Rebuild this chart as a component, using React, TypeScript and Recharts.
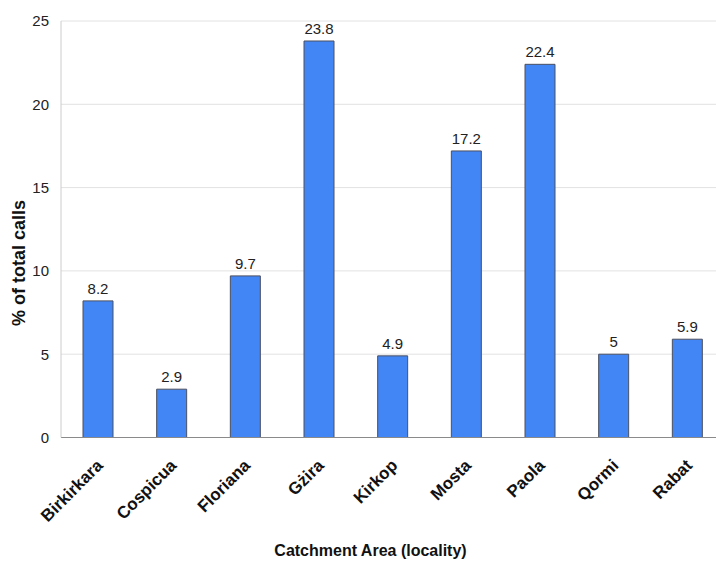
import React from 'react';
import { BarChart, Bar, XAxis, YAxis, CartesianGrid, LabelList, Label } from 'recharts';

const localities = ['Birkirkara', 'Cospicua', 'Floriana', 'Gżira', 'Kirkop', 'Mosta', 'Paola', 'Qormi', 'Rabat'];
const callShares = [8.2, 2.9, 9.7, 23.8, 4.9, 17.2, 22.4, 5, 5.9];
const yTicks = [0, 5, 10, 15, 20, 25];

const data = localities.map((locality, i) => ({ locality, share: callShares[i] }));

const FONT = '"Liberation Sans", Arial, sans-serif';

// slanted locality names under each bar
const LocalityTick = (props: any) => {
  const { x, y, payload } = props;
  return (
    <g transform={`translate(${x + 6},${y + 21})`}>
      <text
        transform="rotate(-45)"
        textAnchor="end"
        fontFamily={FONT}
        fontSize={17}
        fontWeight="bold"
        fill="#111"
      >
        {payload.value}
      </text>
    </g>
  );
};

const App: React.FC = () => {
  return (
    <div
      style={{
        position: 'absolute',
        left: 0,
        top: 0,
        width: 716,
        height: 563,
        overflow: 'hidden',
        background: '#fff',
      }}
    >
      <BarChart
        width={730}
        height={563}
        data={data}
        margin={{ top: 21, right: 6, left: 0, bottom: 0 }}
      >
        <CartesianGrid vertical={false} stroke="#e2e2e2" />
        <XAxis
          dataKey="locality"
          height={125.5}
          interval={0}
          tickLine={false}
          axisLine={{ stroke: '#8a8a8a' }}
          tick={<LocalityTick />}
        >
          <Label
            content={(p: any) => {
              const vb = p.viewBox;
              return (
                <text
                  x={vb.x + vb.width / 2 - 22}
                  y={vb.y + vb.height - 7}
                  textAnchor="middle"
                  fontFamily={FONT}
                  fontSize={16}
                  fontWeight="bold"
                  fill="#111"
                >
                  Catchment Area (locality)
                </text>
              );
            }}
          />
        </XAxis>
        <YAxis
          width={61}
          domain={[0, 25]}
          ticks={yTicks}
          tickLine={false}
          axisLine={{ stroke: '#cccccc' }}
          tick={{ fill: '#222', fontSize: 15, fontFamily: FONT, dx: -4 }}
        >
          <Label
            content={() => (
              <text
                transform="translate(25,263) rotate(-90)"
                textAnchor="middle"
                fontFamily={FONT}
                fontSize={18}
                fontWeight="bold"
                fill="#111"
              >
                % of total calls
              </text>
            )}
          />
        </YAxis>
        <Bar
          dataKey="share"
          barSize={30}
          fill="#4285f4"
          stroke="#4b5060"
          strokeWidth={1}
          isAnimationActive={false}
        >
          <LabelList
            dataKey="share"
            position="top"
            offset={7}
            fill="#222"
            fontSize={15}
            fontFamily={FONT}
          />
        </Bar>
      </BarChart>
    </div>
  );
};

export default App;
